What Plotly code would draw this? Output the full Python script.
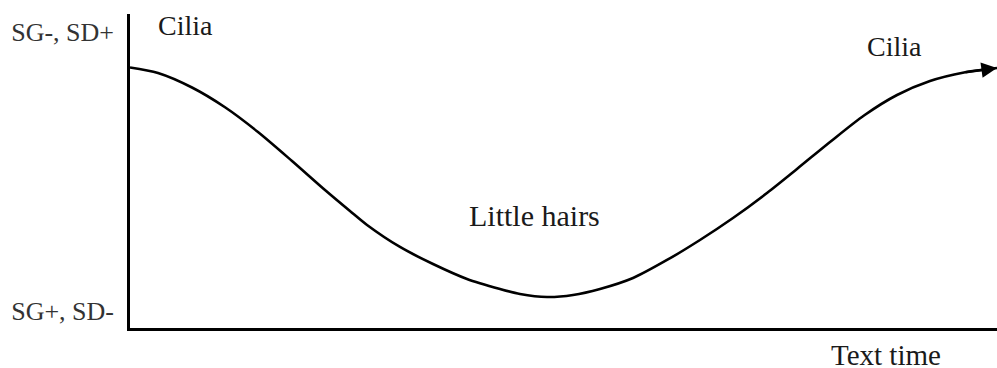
import plotly.graph_objects as go

# Conceptual curve: time (0-100) vs level (0-100)
time = [0, 3.23, 7.15, 10.96, 14.76, 18.69, 22.49, 25.37, 27.34, 31.14, 34.95, 38.87,
        42.68, 44.98, 48.10, 51.10, 54.21, 58.02, 61.94, 65.74, 69.55, 73.47, 76.93,
        80.74, 84.66, 88.47, 92.27, 96.19, 100]
level = [82.96, 81.21, 76.59, 70.29, 62.42, 53.18, 43.95, 37.26, 32.80, 25.80, 20.38, 15.61,
         12.42, 10.83, 9.87, 10.51, 12.42, 15.92, 21.66, 28.03, 35.03, 42.99, 50.64,
         59.24, 67.68, 74.20, 78.66, 81.37, 82.80]

y_tick_vals = [94.3, 5.4]
y_tick_labels = ["SG-, SD+", "SG+, SD-"]

label_texts = ["Cilia", "Little hairs", "Cilia"]
label_x = [6.4, 46.7, 88.2]
label_y = [96.2, 35.7, 89.8]
label_sizes = [28, 30, 28]

x_title = "Text time"
x_title_pos = 87.2

FONT = "Liberation Serif, Times New Roman, serif"

fig = go.Figure()
fig.add_trace(go.Scatter(
    x=time, y=level, mode="lines",
    line=dict(color="black", width=2.6, shape="spline", smoothing=0.8),
    hoverinfo="skip", showlegend=False,
))

# arrow head at the end of the curve
fig.add_annotation(
    x=time[-1], y=level[-1], ax=time[-2], ay=level[-2],
    xref="x", yref="y", axref="x", ayref="y",
    text="", showarrow=True, arrowhead=2, arrowsize=1.2, arrowwidth=2.6,
    arrowcolor="black", standoff=0,
)

for t, x, y, s in zip(label_texts, label_x, label_y, label_sizes):
    fig.add_annotation(x=x, y=y, xref="x", yref="y", text=t, showarrow=False,
                       font=dict(family=FONT, size=s, color="#1a1a1a"),
                       xanchor="center", yanchor="middle")

fig.add_annotation(x=x_title_pos, y=-0.086, xref="x", yref="paper", text=x_title,
                   showarrow=False, borderpad=0,
                   font=dict(family=FONT, size=29, color="#1a1a1a"),
                   xanchor="center", yanchor="middle")

fig.update_layout(
    width=997, height=368,
    margin=dict(l=130, r=0, t=14, b=40),
    paper_bgcolor="white", plot_bgcolor="white",
    font=dict(family=FONT),
)
fig.update_xaxes(range=[0, 100], showgrid=False, zeroline=False, showticklabels=False,
                 ticks="", showline=True, linecolor="black", linewidth=2.6)
fig.update_yaxes(range=[0, 100], showgrid=False, zeroline=False,
                 tickvals=y_tick_vals, ticktext=y_tick_labels, ticks="",
                 ticklabelstandoff=8,
                 tickfont=dict(family=FONT, size=26, color="#333333"),
                 showline=True, linecolor="black", linewidth=2.6)

fig.write_html("out.html", config={"displayModeBar": False},
               post_script="document.body.style.margin='0';")
